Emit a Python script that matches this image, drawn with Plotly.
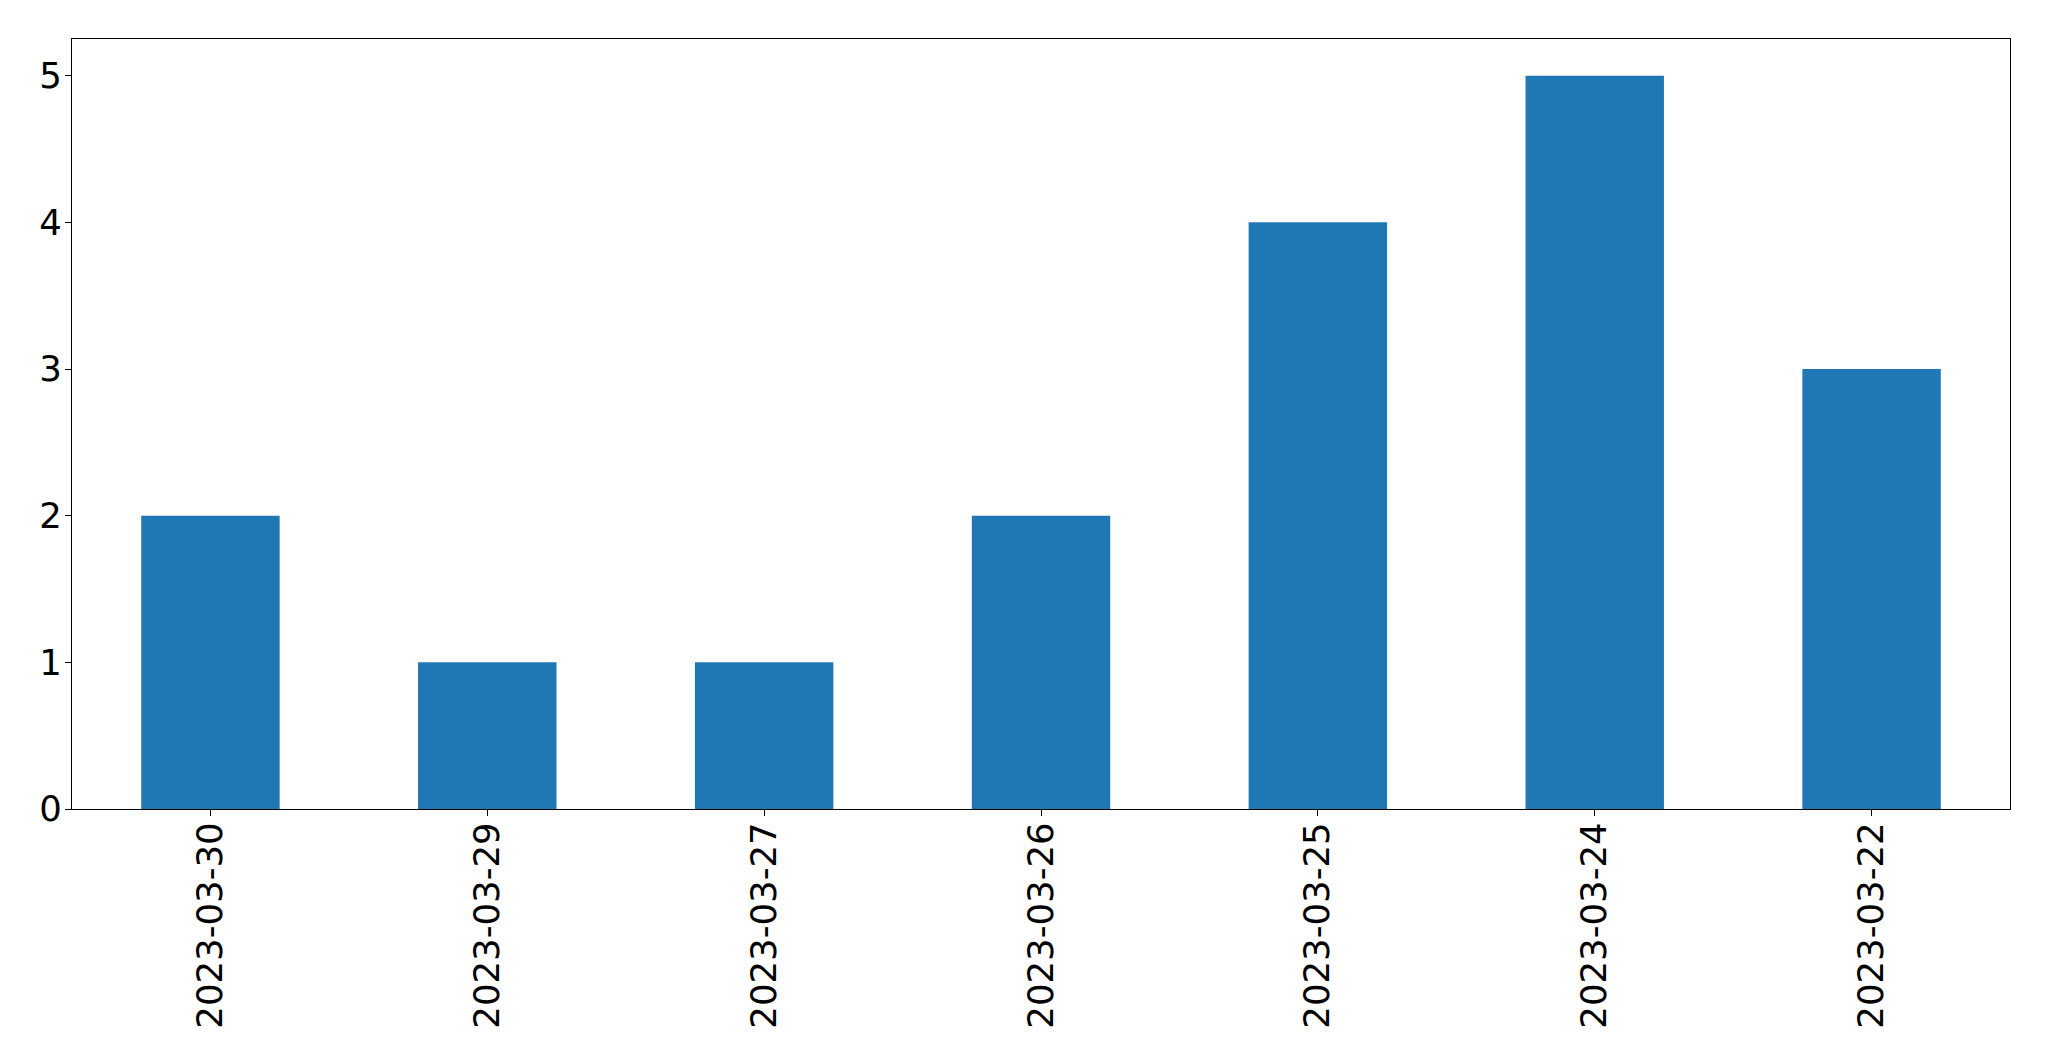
import plotly.graph_objects as go

dates = ["2023-03-30", "2023-03-29", "2023-03-27", "2023-03-26", "2023-03-25", "2023-03-24", "2023-03-22"]
counts = [2, 1, 1, 2, 4, 5, 3]

fig = go.Figure(go.Bar(x=dates, y=counts, width=0.5, marker=dict(color="#1f77b4", line=dict(width=0))))

font = dict(family="DejaVu Sans", size=35.5, color="black")
fig.update_layout(
    width=2041, height=1053,
    margin=dict(l=64, r=39, t=31, b=252),
    paper_bgcolor="white", plot_bgcolor="white",
    showlegend=False, font=font,
)
fig.update_xaxes(type="category", range=[-0.5, 6.5], tickangle=-90, ticks="outside", ticklen=6,
                 tickwidth=1.3, tickcolor="black", showline=True, linecolor="black", linewidth=1.3,
                 mirror=True, showgrid=False, tickfont=font, zeroline=False, ticklabelstandoff=-8)
fig.update_yaxes(range=[0, 5.25], tickvals=[0, 1, 2, 3, 4, 5], ticks="outside", ticklen=6,
                 tickwidth=1.3, tickcolor="black", showline=True, linecolor="black", linewidth=1.3,
                 mirror=True, showgrid=False, tickfont=font, zeroline=False, ticklabelstandoff=-4)

fig.write_html("out.html")
